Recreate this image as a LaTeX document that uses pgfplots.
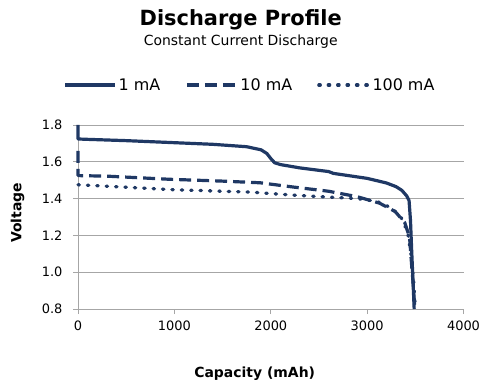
\documentclass[border=0pt]{standalone}
\usepackage{pgfplots}
\pgfplotsset{compat=1.18}
\usepackage{fontspec}
\setmainfont{DejaVu Sans}
\definecolor{navy}{HTML}{1F3864}
\definecolor{gridgray}{HTML}{A6A6A6}
\begin{document}
\begin{tikzpicture}[x=1bp,y=1bp]
\useasboundingbox (0,0) rectangle (492,389);
\begin{axis}[
  at={(78bp,80bp)}, anchor=south west,
  scale only axis, width=385.5bp, height=184bp,
  xmin=0, xmax=4000, ymin=0.8, ymax=1.8,
  xtick={0,1000,2000,3000,4000},
  ytick={0.8,1.0,1.2,1.4,1.6,1.8},
  axis x line*=bottom, axis y line*=left,
  ymajorgrids,
  major grid style={gridgray, line width=0.8bp},
  axis line style={gridgray, line width=0.8bp},
  tick style={gridgray, line width=0.8bp},
  tick align=outside, major tick length=5bp,
  /pgf/number format/assume math mode=true,
  ticklabel style={font=\fontsize{13}{15}\selectfont, text=black},
  y tick label style={/pgf/number format/.cd, fixed, fixed zerofill, precision=1, /tikz/.cd, xshift=-7bp},
  x tick label style={/pgf/number format/1000 sep={}, yshift=-3bp},
  clip=false,
  legend columns=3,
  legend style={at={(0.446,1.217)}, anchor=center, draw=none, fill=none,
    font=\fontsize{16}{19}\selectfont,
    /tikz/every even column/.append style={column sep=23bp}},
  legend image code/.code={\draw[#1] (0bp,0bp) -- (50bp,0bp);},
]
\addplot[navy, line width=3.2bp, line join=round] coordinates {
(0,1.80) (0,1.724) (100,1.722) (500,1.715) (950,1.705) (1400,1.695) (1750,1.682)
(1900,1.665) (1960,1.645) (2000,1.618) (2040,1.595) (2100,1.585) (2300,1.567)
(2600,1.547) (2650,1.537) (3000,1.51) (3200,1.485) (3300,1.465) (3360,1.445)
(3410,1.415) (3435,1.39) (3450,1.28) (3462,1.12) (3476,0.95) (3488,0.8)
};
\addlegendentry{1 mA}
\addplot[navy, line width=3.2bp, dash pattern=on 12bp off 6bp, line join=round] coordinates {
(0,1.66) (0,1.525) (300,1.522) (950,1.505) (1500,1.495) (1890,1.486) (2200,1.465)
(2600,1.44) (2900,1.41) (3130,1.375) (3290,1.33) (3390,1.27) (3440,1.19)
(3460,1.05) (3480,0.92) (3495,0.8)
};
\addlegendentry{10 mA}
\addplot[navy, line width=3.3bp, line cap=round, dash pattern=on 1.4bp off 8bp] coordinates {
(0,1.475) (500,1.462) (1000,1.448) (1500,1.44) (1800,1.435) (2200,1.42) (2600,1.408)
(2900,1.40) (3100,1.385) (3250,1.35) (3350,1.30) (3420,1.22) (3460,1.08)
(3485,0.93) (3500,0.8)
};
\addlegendentry{100 mA}
\end{axis}
\node[font=\bfseries\fontsize{21}{25}\selectfont, anchor=base] at (240.7,364) {Discharge Profile};
\node[font=\fontsize{14}{17}\selectfont, anchor=base] at (240.7,344) {Constant Current Discharge};
\node[font=\bfseries\fontsize{14}{17}\selectfont, anchor=base] at (254.7,12) {Capacity (mAh)};
\node[font=\bfseries\fontsize{14}{17}\selectfont, rotate=90] at (17.5,176) {Voltage};
\end{tikzpicture}
\end{document}
